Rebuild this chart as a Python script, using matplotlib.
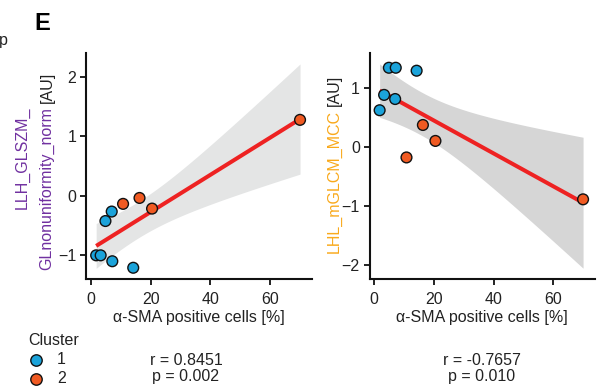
import numpy as np
import matplotlib
matplotlib.use("Agg")
import matplotlib.pyplot as plt
from matplotlib.lines import Line2D

plt.rcParams['font.family'] = ['Liberation Sans', 'DejaVu Sans']

# ---- data ----
sma = [1.8, 3.3, 4.9, 7.0, 7.2, 14.2, 10.8, 16.3, 20.5, 70.0]
cluster = [1, 1, 1, 1, 1, 1, 2, 2, 2, 2]
glszm = [-1.01, -1.01, -0.43, -0.27, -1.11, -1.22, -0.14, -0.04, -0.22, 1.28]
mcc = [0.62, 0.88, 1.34, 0.81, 1.34, 1.29, -0.18, 0.37, 0.10, -0.89]
stats_left = ["r = 0.8451", "p = 0.002"]
stats_right = ["r = -0.7657", "p = 0.010"]
xticks = [0, 20, 40, 60]
yticks_left = [-1, 0, 1, 2]
yticks_right = [-2, -1, 0, 1]
cluster_labels = ["1", "2"]

BLUE = "#1BA3DA"
ORANGE = "#F05A22"
RED = "#EE2222"
PURPLE = "#7030A0"
GOLD = "#F9A91B"

W, H = 601, 386
fig = plt.figure(figsize=(W / 100, H / 100), dpi=100)


def fx(px):
    return px / W


def fy(py):
    return 1 - py / H


def panel(rect, x, y, ylim, yticks, band_color):
    ax = fig.add_axes(rect)
    x = np.asarray(x)
    y = np.asarray(y)
    n = len(x)
    b, a = np.polyfit(x, y, 1)
    xs = np.linspace(x.min(), x.max(), 200)
    yhat = a + b * xs
    res = y - (a + b * x)
    s = np.sqrt(np.sum(res ** 2) / (n - 2))
    sxx = np.sum((x - x.mean()) ** 2)
    se = s * np.sqrt(1 / n + (xs - x.mean()) ** 2 / sxx)
    t = 2.306  # t(0.975, df=8)
    ax.fill_between(xs, yhat - t * se, yhat + t * se, color=band_color, lw=0, zorder=1)
    ax.plot(xs, yhat, color=RED, lw=2.9, zorder=2, solid_capstyle='butt')
    cols = [BLUE if c == 1 else ORANGE for c in cluster]
    ax.scatter(x, y, s=60, c=cols, edgecolors='#111111', linewidths=1.0, zorder=3)
    ax.set_xlim(-1.6, 74.0)
    ax.set_ylim(*ylim)
    ax.set_xticks(xticks)
    ax.set_yticks(yticks)
    for sp in ['top', 'right']:
        ax.spines[sp].set_visible(False)
    for sp in ['left', 'bottom']:
        ax.spines[sp].set_linewidth(1.5)
        ax.spines[sp].set_color('#111111')
    ax.tick_params(axis='both', length=4.5, width=1.3, color='#111111',
                   labelsize=11.5, labelcolor='#222222', pad=2.5)
    ax.tick_params(axis='x', pad=5)
    ax.set_xlabel("α-SMA positive cells [%]", fontsize=11.5, color='#222222', labelpad=2)
    return ax


# left panel
axl = panel([fx(86), fy(279), fx(312) - fx(86), fy(53) - fy(279)],
            sma, glszm, (-1.41, 2.41), yticks_left, "#E4E5E5")
# right panel
axr = panel([fx(369.5), fy(279), fx(595) - fx(369.5), fy(53) - fy(279)],
            sma, mcc, (-2.24, 1.59), yticks_right, "#D6D6D6")

# y labels (multi-coloured)
fs_lab = 11.5
fig.text(fx(22), fy(158), "LLH_GLSZM_", rotation=90, ha='center', va='center',
         color=PURPLE, fontsize=fs_lab)
t2 = fig.text(fx(47), fy(270), "GLnonuniformity_norm", rotation=90, ha='center',
              va='bottom', color=PURPLE, fontsize=fs_lab)
t3 = fig.text(fx(334), fy(253), "LHL_mGLCM_MCC", rotation=90, ha='center',
              va='bottom', color=GOLD, fontsize=fs_lab)
fig.canvas.draw()
r = fig.canvas.get_renderer()
for t, xc in [(t2, 47), (t3, 334)]:
    bb = t.get_window_extent(renderer=r)
    fig.text(fx(xc), (bb.y1 + 4) / H, "[AU]", rotation=90, ha='center', va='bottom',
             color='#222222', fontsize=fs_lab)

# panel letter and fragment
fig.text(fx(34), fy(30), "E", fontsize=17, fontweight='bold', color='black',
         ha='left', va='baseline')
fig.text(fx(-1), fy(45), "p", fontsize=11.5, color='#222222', ha='left', va='baseline')

# legend
fig.text(fx(28), fy(345), "Cluster", fontsize=11.5, color='#222222', ha='left', va='baseline')
for i, (lab, col) in enumerate(zip(cluster_labels, [BLUE, ORANGE])):
    yy = 360 + i * 18.5
    fig.add_artist(Line2D([fx(36)], [fy(yy)], marker='o', markersize=8.2,
                          markerfacecolor=col, markeredgecolor='#111111',
                          markeredgewidth=1.0, transform=fig.transFigure))
    fig.text(fx(57), fy(yy), lab, fontsize=11.5, color='#222222', ha='left', va='center')

# stats
for xc, lines in [(186, stats_left), (482, stats_right)]:
    fig.text(fx(xc), fy(365), lines[0], fontsize=11.5, color='#222222', ha='center', va='baseline')
    fig.text(fx(xc), fy(381), lines[1], fontsize=11.5, color='#222222', ha='center', va='baseline')

fig.savefig("out.png", dpi=100)
